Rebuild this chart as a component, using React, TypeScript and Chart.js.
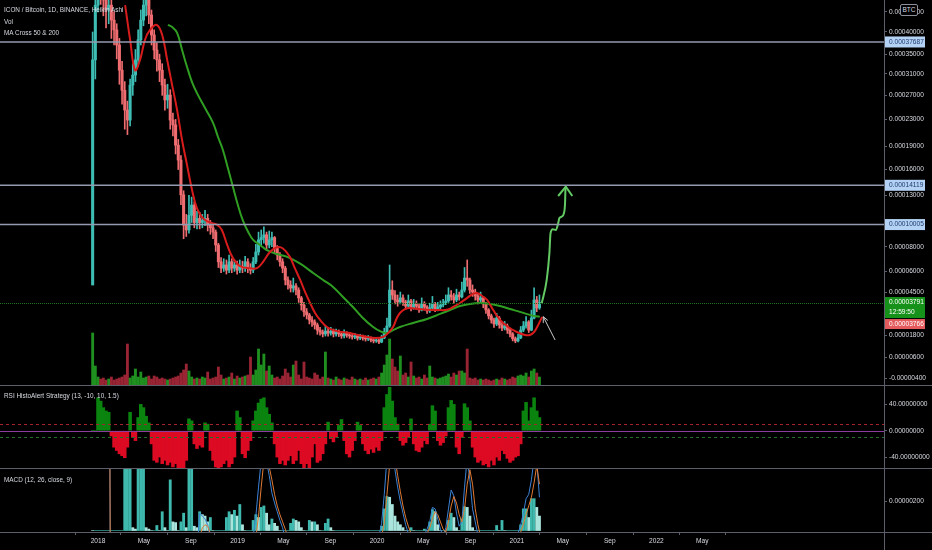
import { useEffect, useRef } from 'react';
import { Chart, registerables } from 'chart.js';

Chart.register(...registerables);

// days counted from 2018-01-01, one Heikin Ashi bar per week
const FIRST_DAY = -14;
const BAR_STEP = 7;
const LISTING_OPEN = 5000;

// prices in satoshi
const closes = [
  33800, 46800, 56000, 52000, 48200, 45500, 46800, 42900, 40500, 37000,
  31700, 27900, 24500, 22900, 28850, 30750, 33800, 38200, 42900, 46800,
  48200, 44200, 39300, 35900, 33800, 31700, 28850, 26200, 27050, 22900,
  22150, 19200, 17200, 13050, 9950, 9500, 10900, 11950, 10200, 10600,
  10200, 10400, 10600, 9950, 9700, 9300, 8150, 6750, 6250, 6500,
  6100, 6750, 6250, 6500, 6100, 6400, 6250, 6750, 6250, 6100,
  6750, 7550, 8600, 8800, 9050, 8150, 8600, 8800, 7850, 7300,
  6750, 6250, 5360, 5000, 4780, 4930, 4640, 4100, 3630, 3190,
  3000, 2690, 2570, 2390, 2090, 1980, 1870, 2030, 1920, 2030,
  1870, 1980, 1870, 1760, 1920, 1810, 1760, 1700, 1760, 1640,
  1700, 1640, 1590, 1640, 1530, 1480, 1530, 1420, 1640, 1980,
  2330, 4640, 4300, 3960, 3830, 4100, 3830, 3560, 3900, 3440,
  3700, 3560, 3310, 3700, 3500, 3250, 3440, 3700, 3380, 3500,
  3630, 3760, 3900, 4300, 4170, 3960, 4300, 4170, 4640, 5500,
  5360, 4640, 4500, 4230, 3960, 4100, 3700, 3310, 2940, 2690,
  2450, 2810, 2390, 2210, 2330, 2090, 1870, 1600, 1480, 1650,
  2090, 2330, 2570, 2090, 2810, 3960, 3440, 3791,
];

const highs = [
  40000, 52000, 62000, 60000, 56000, 52000, 50000, 48500, 45000, 42000,
  38500, 33500, 29500, 26000, 30000, 33000, 36000, 40500, 45500, 50000,
  52000, 49500, 45500, 40500, 37500, 35000, 33000, 30000, 29000, 28000,
  24000, 23000, 20000, 17800, 13500, 11000, 13000, 12800, 12300, 11300,
  11200, 11000, 11400, 11000, 10400, 10100, 9500, 8300, 7100, 7000,
  6900, 7300, 7000, 6900, 6800, 6900, 6800, 7200, 7000, 6600,
  7100, 8200, 9300, 9500, 9800, 9300, 9400, 9300, 8900, 8100,
  7500, 7000, 6400, 5600, 5300, 5500, 5100, 4800, 4200, 3800,
  3400, 3100, 2900, 2700, 2500, 2250, 2100, 2350, 2200, 2250,
  2150, 2150, 2100, 1980, 2100, 2000, 1950, 1880, 1900, 1850,
  1850, 1800, 1760, 1780, 1700, 1650, 1680, 1600, 1800, 2200,
  2800, 6500, 5300, 4600, 4300, 4500, 4300, 3950, 4300, 4000,
  4000, 3900, 3700, 4100, 3850, 3600, 3750, 4200, 3800, 3800,
  3900, 4000, 4300, 4800, 4600, 4400, 4700, 4500, 5200, 6300,
  6900, 5500, 5000, 4700, 4400, 4500, 4200, 3800, 3400, 3050,
  2800, 3100, 2900, 2550, 2600, 2450, 2200, 1950, 1700, 1850,
  2300, 2600, 2900, 2650, 3300, 4800, 4200, 4300,
];

const lows = [
  5000, 30000, 45000, 47000, 44000, 41000, 42000, 38500, 37000, 34000,
  29000, 25500, 21500, 20700, 22000, 27000, 29500, 32500, 37000, 41500,
  44000, 42000, 37000, 34000, 31500, 29500, 27000, 24500, 24800, 21500,
  20500, 18000, 16000, 12000, 8700, 8900, 9200, 10200, 9700, 9600,
  9600, 9700, 9900, 9400, 9100, 8700, 7600, 6300, 5900, 6000,
  5800, 5900, 5900, 6000, 5800, 5900, 5900, 6000, 5900, 5800,
  5900, 6600, 7300, 8100, 8300, 7700, 7900, 8000, 7400, 6900,
  6400, 5900, 5000, 4700, 4500, 4500, 4300, 3800, 3300, 2900,
  2750, 2450, 2300, 2150, 1850, 1800, 1700, 1750, 1750, 1800,
  1700, 1750, 1720, 1620, 1650, 1680, 1620, 1580, 1600, 1520,
  1550, 1520, 1470, 1500, 1420, 1370, 1400, 1330, 1380, 1600,
  1900, 2250, 4000, 3700, 3550, 3700, 3600, 3350, 3450, 3250,
  3350, 3350, 3150, 3250, 3300, 3100, 3150, 3350, 3200, 3250,
  3380, 3500, 3650, 3800, 3950, 3750, 3850, 3950, 4100, 4500,
  4900, 4400, 4200, 3950, 3700, 3800, 3450, 3100, 2750, 2500,
  2250, 2350, 2200, 2050, 2100, 1900, 1700, 1480, 1380, 1420,
  1600, 2000, 2200, 1950, 2050, 2750, 3200, 3350,
];

const volumes = [
  52, 19, 8, 6, 7, 5, 6, 8, 5, 6,
  7, 8, 10, 41, 7, 9, 16, 8, 13, 7,
  8, 9, 6, 9, 8, 6, 7, 6, 5, 6,
  7, 8, 9, 12, 15, 21, 14, 8, 6, 7,
  6, 8, 7, 13, 6, 7, 8, 18, 10, 6,
  7, 8, 12, 6, 9, 7, 8, 9, 10, 28,
  10, 15, 36, 20, 31, 14, 19, 10, 7, 8,
  6, 9, 16, 12, 8, 20, 24, 10, 6, 23,
  8, 7, 6, 12, 10, 6, 8, 33, 7, 6,
  5, 8, 6, 5, 7, 6, 5, 8, 6, 5,
  6, 5, 7, 5, 6, 7, 6, 8, 12, 20,
  30, 46, 26, 18, 14, 29, 10, 12, 8, 23,
  9, 7, 8, 6, 10, 7, 19, 8, 7, 6,
  7, 8, 9, 11, 8, 12, 10, 14, 14, 12,
  36, 7, 6, 7, 5, 6, 5, 6, 5, 4,
  5, 6, 5, 7, 6, 5, 6, 8, 7, 9,
  10, 9, 12, 8, 14, 16, 12, 8,
];

const rsiHisto = [
  0, 0, 50, 45, 35, 30, 28, -8, -25, -30,
  -35, -38, -41, -25, 28, -10, -15, 20, 40, 35,
  22, 12, -20, -45, -48, -40, -50, -45, -52, -48,
  -55, -50, -60, -60, -58, -45, 18, 15, -20, -27,
  -22, -25, 12, 10, -30, -45, -55, -60, -55, -50,
  -45, -55, -50, -40, 30, 20, -35, -41, -30, -15,
  15, 30, 42, 48, 50, 35, 25, 12, -20, -40,
  -50, -45, -52, -45, -38, -50, -45, -30, -50, -57,
  -50, -57, -40, -20, -48, -45, -35, -20, 13, -12,
  -17, -10, 8, 17, -15, -35, -40, -30, -15, 13,
  8, -20, -30, -35, -28, -33, -25, -30, -15, 35,
  55, 66, 45, 20, 10, -15, -22, -18, -10, 18,
  -20, -30, -32, -25, -15, -20, 10, 38, 30, -15,
  -22, -18, -8, 35, 46, 40, -25, -35, -10, 41,
  35, 15, -25, -40, -48, -45, -52, -50, -55, -45,
  -52, -40, -45, -30, -35, -42, -48, -45, -40, -38,
  -20, 30, 43, 15, 35, 50, 30, 20,
];

// MACD values in satoshi
const macdHisto = [
  0, 0, 0, 0, 0, 0, 0, 0, 0, 0,
  0, 0, 450, 450, 450, 20, 10, 450, 450, 450,
  20, 10, 0, 0, 35, 0, 130, 20, 0, 350,
  60, 55, 0, 60, 120, 20, 450, 450, 30, 20,
  130, 110, 100, 60, 90, 0, 0, 0, 0, 0,
  90, 130, 110, 140, 100, 180, 40, 0, 0, 0,
  70, 110, 90, 160, 170, 120, 40, 80, 50, 30,
  0, 0, 0, 0, 50, 80, 70, 60, 20, 0,
  0, 70, 60, 60, 40, 0, 0, 50, 80, 20,
  0, 0, 0, 0, 0, 0, 0, 0, 0, 0,
  0, 0, 0, 0, 0, 0, 0, 0, 30, 150,
  235, 230, 180, 100, 60, 40, 20, 0, 0, 20,
  0, 0, 0, 0, 10, 0, 60, 145, 130, 40,
  0, 0, 0, 70, 120, 90, 20, 0, 80, 165,
  160, 100, 20, 0, 0, 0, 0, 0, 0, 0,
  0, 35, 0, 70, 0, 0, 0, 0, 0, 0,
  40, 150, 150, 90, 220, 220, 160, 100,
];

const macdLine = [
  null, null, 3000, 3000, 3000, 3000, 3000, -2500, -2000, -1800,
  -1600, -1400, -1200, -1000, -900, -800, -700, -600, -500, -450,
  -400, -400, -450, -500, -550, -600, -600, -600, -600, -600,
  -550, -500, -500, -500, -500, -450, -400, -300, -250, -150,
  120, 100, 80, 40, -50, -150, -200, -250, -250, -250,
  -230, -200, -180, -160, -140, -120, -100, -90, -80, -60,
  -40, 100, 300, 480, 550, 480, 380, 260, 190, 130,
  70, 20, -60, -100, -120, -140, -150, -160, -170, -170,
  -160, -150, -140, -130, -120, -110, -100, -90, -80, -80,
  -75, -70, -72, -68, -65, -66, -62, -60, -58, -55,
  -52, -50, -50, -48, -46, -45, -44, -42, 50, 250,
  500, 700, 600, 420, 300, 200, 120, 40, -20, -40,
  -60, -70, -60, -50, -30, 10, 60, 160, 150, 80,
  10, -40, 20, 150, 280, 240, 120, 30, 60, 300,
  500, 350, 150, 60, -30, -80, -120, -150, -160, -170,
  -170, -160, -150, -140, -130, -120, -110, -90, -60, -20,
  40, 120, 220, 250, 350, 500, 480, 230,
];

const macdSignal = [
  null, null, 2500, 2500, 2500, 2500, 2500, -2000, -1800, -1700,
  -1600, -1500, -1400, -1300, -1200, -1100, -1000, -900, -800, -700,
  -650, -600, -580, -560, -560, -570, -580, -590, -590, -600,
  -590, -570, -560, -540, -530, -510, -480, -440, -400, -300,
  -50, 20, 40, 30, -20, -80, -140, -190, -220, -240,
  -240, -230, -210, -190, -170, -150, -130, -115, -100, -85,
  -70, -50, 100, 300, 480, 500, 440, 350, 250, 170,
  110, 60, 10, -50, -90, -110, -125, -140, -150, -160,
  -160, -158, -150, -142, -135, -125, -115, -105, -95, -88,
  -82, -78, -75, -72, -70, -68, -65, -63, -60, -58,
  -56, -54, -52, -50, -49, -47, -46, -44, -40, 50,
  250, 450, 550, 500, 380, 270, 170, 90, 30, -20,
  -45, -55, -60, -58, -45, -20, 20, 80, 130, 110,
  60, 10, -10, 60, 170, 235, 190, 110, 60, 150,
  320, 420, 320, 150, 40, -40, -80, -110, -130, -145,
  -155, -158, -155, -150, -142, -135, -125, -115, -95, -60,
  -10, 40, 110, 170, 230, 330, 450, 320,
];

const ma50Days = [
  71, 84, 97, 110, 123, 136, 154, 168, 181, 194, 207, 220, 233, 246, 259, 275, 293, 311, 324, 338,
  353, 372, 398, 416, 432, 450, 468, 484, 502, 515, 529, 542, 555, 568, 581, 599, 615, 638, 659, 680,
  704, 725, 746, 759, 772, 782, 790, 803, 816, 837, 861, 887, 913, 929, 947, 966, 981, 992, 1005, 1018,
  1034, 1052, 1073, 1096, 1117, 1130, 1141, 1149, 1162,
];
const ma50Values = [
  46800, 38200, 31700, 33800, 38200, 40500, 41700, 39300, 33800, 28850, 24500, 19900, 16550, 13600, 11600, 10600, 10200, 10000, 9500, 8150,
  7050, 6400, 6250, 6250, 6750, 7550, 7950, 7850, 7150, 6250, 5360, 4500, 3760, 3120, 2690, 2270, 2090, 1980, 1920, 1810,
  1700, 1640, 1700, 1920, 2270, 2810, 3120, 3370, 3440, 3370, 3330, 3310, 3320, 3500, 3760, 4100, 4370, 4430, 4230, 3960,
  3310, 2690, 2270, 1980, 1810, 1810, 1980, 2270, 2880,
];

const ma200Days = [
  183, 194, 207, 220, 233, 246, 259, 280, 301, 314, 327, 340, 353, 366, 379, 393, 406, 424, 442, 468,
  495, 529, 563, 589, 615, 641, 667, 693, 720, 738, 756, 772, 790, 824, 861, 895, 921, 947, 973, 1000,
  1026, 1052, 1078, 1104, 1130, 1156,
];
const ma200Values = [
  41700, 41200, 39800, 35900, 32350, 29400, 27400, 24850, 22450, 20350, 18500, 16150, 13950, 11950, 10400, 9300, 8600, 8150, 7700, 7380,
  7150, 6600, 5880, 5360, 4860, 4160, 3500, 2810, 2270, 2030, 1920, 2090, 2270, 2510, 2750, 3060, 3310, 3560, 3700, 3760,
  3700, 3560, 3370, 3190, 3000, 2880,
];

// drawn target arrow and hint arrow
const targetDays = [1161, 1174, 1181, 1184, 1190, 1198, 1204, 1207, 1213, 1219, 1222, 1223, 1224];
const targetPrices = [3740, 5360, 7440, 9190, 9560, 9490, 10120, 10610, 10770, 11110, 12140, 13580, 13960];
const targetHeadDays = [1204, 1224, 1241];
const targetHeadPrices = [12920, 13960, 12920];
const hintDays = [1196, 1165];
const hintPrices = [1530, 2890];
const hintHeadDays = [1166, 1165, 1177];
const hintHeadPrices = [2520, 2890, 2660];

const levels = [37687, 14119, 10005];
const lastPrice = 3791;
const lastClock = '12:59:50';
const prevPrice = 3766;

const priceTicks = [45000, 40000, 35000, 31000, 27000, 23000, 19000, 16000, 13000, 8000, 6000, 4500, 1800, 600, -400];
const rsiTicks = [40, 0, -40];
const macdTicks = [200];
const rsiUpper = 10;
const rsiLower = -10;

const timeTickDays = [0, 120, 243, 365, 485, 608, 730, 851, 974, 1096, 1216, 1339, 1461, 1581];
const timeTickLabels = ['2018', 'May', 'Sep', '2019', 'May', 'Sep', '2020', 'May', 'Sep', '2021', 'May', 'Sep', '2022', 'May'];

const FONT = "'Liberation Sans Narrow', 'Liberation Sans', Arial, sans-serif";
const TEXT = '#d8dbe2';
const LINE = '#5c5f69';
const X_MIN = -256.4;
const X_MAX = 2056.5;

const tp = (sats: number) => Math.log(sats / 1000 + 10.1);
const btc = (sats: number) => (sats / 1e8).toFixed(8);
const dayOf = (i: number) => FIRST_DAY + i * BAR_STEP;
const pts = (days: number[], vals: number[]) => days.map((d, i) => ({ x: d, y: tp(vals[i]) }));
const isUp = (i: number) => closes[i] >= (i ? closes[i - 1] : LISTING_OPEN);

Chart.defaults.font.family = FONT;
Chart.defaults.font.size = 6.6;

const noPadding = (s: any) => {
  s.paddingTop = 0;
  s.paddingBottom = 0;
  s.paddingLeft = 0;
  s.paddingRight = 0;
};

function xAxis(show: boolean): any {
  return {
    type: 'linear',
    min: X_MIN,
    max: X_MAX,
    offset: false,
    display: show,
    afterBuildTicks: (s: any) => {
      s.ticks = timeTickDays.map((v) => ({ value: v }));
    },
    afterFit: (s: any) => {
      noPadding(s);
      if (show) s.height = 18;
    },
    grid: { drawOnChartArea: false, drawTicks: true, tickLength: 3, color: LINE },
    border: { display: false },
    ticks: {
      color: TEXT,
      padding: 2,
      autoSkip: false,
      maxRotation: 0,
      callback: (_v: any, i: number) => timeTickLabels[i],
    },
  };
}

function yAxis(min: number, max: number, ticks: number[], toValue: (v: number) => number, label: (v: number) => string): any {
  return {
    position: 'right',
    min,
    max,
    afterBuildTicks: (s: any) => {
      s.ticks = ticks.map((v) => ({ value: toValue(v) }));
    },
    afterFit: (s: any) => {
      noPadding(s);
      s.width = 48;
    },
    grid: { drawOnChartArea: false, drawTicks: true, tickLength: 3, color: LINE },
    border: { display: false },
    ticks: { color: TEXT, padding: 2, autoSkip: false, callback: (_v: any, i: number) => label(ticks[i]) },
  };
}

const baseOptions: any = {
  responsive: false,
  animation: false,
  events: [],
  layout: { padding: 0, autoPadding: false },
  plugins: { legend: { display: false }, tooltip: { enabled: false } },
};

const priceMarks = {
  id: 'priceMarks',
  afterDatasetsDraw(chart: any) {
    const { ctx, chartArea: a } = chart;
    const y = chart.scales.y;
    ctx.save();
    ctx.strokeStyle = '#939bb0';
    ctx.lineWidth = 1.5;
    levels.forEach((v) => {
      const py = y.getPixelForValue(tp(v));
      ctx.beginPath();
      ctx.moveTo(a.left, py);
      ctx.lineTo(a.right, py);
      ctx.stroke();
    });
    ctx.strokeStyle = '#1c6e20';
    ctx.lineWidth = 1;
    ctx.setLineDash([1, 1]);
    const lp = Math.round(y.getPixelForValue(tp(lastPrice))) + 0.5;
    ctx.beginPath();
    ctx.moveTo(a.left, lp);
    ctx.lineTo(a.right, lp);
    ctx.stroke();
    ctx.restore();
  },
  afterDraw(chart: any) {
    const { ctx, chartArea: a } = chart;
    const y = chart.scales.y;
    const left = a.right + 1;
    ctx.save();
    ctx.font = `6.6px ${FONT}`;
    ctx.textBaseline = 'middle';
    const box = (top: number, h: number, fill: string, color: string, lines: string[]) => {
      ctx.fillStyle = fill;
      ctx.fillRect(left, top, 40, h);
      ctx.fillStyle = color;
      lines.forEach((t, k) => ctx.fillText(t, left + 4, top + 5.5 + k * 10));
    };
    levels.forEach((v) => {
      const py = y.getPixelForValue(tp(v));
      box(py - 5.5, 11, '#b4d2f3', '#1d3a6e', [btc(v)]);
    });
    const lp = y.getPixelForValue(tp(lastPrice));
    box(lp - 5.5, 21, '#16921a', '#ffffff', [btc(lastPrice), lastClock]);
    box(lp - 5.5 + 22, 10, '#e35b5d', '#ffffff', [btc(prevPrice)]);
    ctx.restore();
  },
};

const rsiMarks = {
  id: 'rsiMarks',
  afterDatasetsDraw(chart: any) {
    const { ctx, chartArea: a } = chart;
    const y = chart.scales.y;
    const hline = (v: number, color: string, dash: number[]) => {
      const py = Math.round(y.getPixelForValue(v)) + 0.5;
      ctx.strokeStyle = color;
      ctx.setLineDash(dash);
      ctx.beginPath();
      ctx.moveTo(a.left, py);
      ctx.lineTo(a.right, py);
      ctx.stroke();
    };
    ctx.save();
    ctx.lineWidth = 1;
    hline(rsiUpper, '#a5232d', [3, 3]);
    hline(rsiLower, '#22702a', [3, 3]);
    hline(0, '#8b3c9c', []);
    ctx.restore();
  },
};

export default function App() {
  const mainRef = useRef<HTMLCanvasElement | null>(null);
  const rsiRef = useRef<HTMLCanvasElement | null>(null);
  const macdRef = useRef<HTMLCanvasElement | null>(null);

  useEffect(() => {
    if (!mainRef.current || !rsiRef.current || !macdRef.current) return;

    const bodies = closes.map((c, i) => ({ x: dayOf(i), y: [tp(i ? closes[i - 1] : LISTING_OPEN), tp(c)] }));
    const wicks = closes.map((_c, i) => ({ x: dayOf(i), y: [tp(lows[i]), tp(highs[i])] }));
    const candleColor = (ctx: any) => (isUp(ctx.dataIndex ?? 0) ? '#3dbdb4' : '#ef6d70');

    const main = new Chart(mainRef.current, {
      type: 'bar',
      data: {
        datasets: [
          {
            type: 'line',
            data: pts(hintHeadDays, hintHeadPrices),
            borderColor: '#c9c9c9',
            borderWidth: 1,
            pointRadius: 0,
            order: 1,
          },
          {
            type: 'line',
            data: pts(hintDays, hintPrices),
            borderColor: '#c9c9c9',
            borderWidth: 1,
            pointRadius: 0,
            order: 1,
          },
          {
            type: 'line',
            data: pts(targetHeadDays, targetHeadPrices),
            borderColor: '#63c963',
            borderWidth: 2,
            pointRadius: 0,
            order: 1,
          },
          {
            type: 'line',
            data: pts(targetDays, targetPrices),
            borderColor: '#63c963',
            borderWidth: 2,
            pointRadius: 0,
            cubicInterpolationMode: 'monotone',
            order: 1,
          },
          {
            type: 'line',
            data: pts(ma50Days, ma50Values),
            borderColor: '#d81c1c',
            borderWidth: 2,
            pointRadius: 0,
            tension: 0.4,
            order: 2,
          },
          {
            type: 'line',
            data: pts(ma200Days, ma200Values),
            borderColor: '#2f9e22',
            borderWidth: 2,
            pointRadius: 0,
            tension: 0.4,
            order: 2,
          },
          {
            data: bodies,
            backgroundColor: candleColor,
            barThickness: 2.4,
            minBarLength: 1,
            grouped: false,
            order: 5,
          },
          {
            data: wicks,
            backgroundColor: candleColor,
            barThickness: 1,
            grouped: false,
            order: 6,
          },
          {
            yAxisID: 'yv',
            data: volumes.map((v, i) => ({ x: dayOf(i), y: v })),
            backgroundColor: (ctx: any) => (isUp(ctx.dataIndex ?? 0) ? 'rgba(34,160,34,0.9)' : 'rgba(170,40,56,0.9)'),
            barThickness: 2.2,
            grouped: false,
            order: 10,
          },
        ] as any,
      },
      options: {
        ...baseOptions,
        scales: {
          x: xAxis(false),
          y: yAxis(2.24024, 4.06575, priceTicks, tp, btc),
          yv: { display: false, min: 0, max: 385 },
        },
      },
      plugins: [priceMarks],
    });

    const rsi = new Chart(rsiRef.current, {
      type: 'bar',
      data: {
        datasets: [
          {
            data: rsiHisto.map((v, i) => ({ x: dayOf(i), y: v })),
            backgroundColor: (ctx: any) => ((ctx.raw?.y ?? 0) >= 0 ? '#0a840f' : '#dc0a22'),
            barThickness: 2.9,
            grouped: false,
          },
        ],
      },
      options: {
        ...baseOptions,
        scales: {
          x: xAxis(false),
          y: yAxis(-56.6, 67.9, rsiTicks, (v) => v, (v) => v.toFixed(8)),
        },
      },
      plugins: [rsiMarks],
    });

    const macd = new Chart(macdRef.current, {
      type: 'bar',
      data: {
        datasets: [
          {
            type: 'line',
            data: macdSignal.map((v, i) => ({ x: dayOf(i), y: v })),
            borderColor: '#e27a33',
            borderWidth: 1,
            pointRadius: 0,
            order: 1,
          },
          {
            type: 'line',
            data: macdLine.map((v, i) => ({ x: dayOf(i), y: v })),
            borderColor: '#3b82d6',
            borderWidth: 1,
            pointRadius: 0,
            order: 1,
          },
          {
            data: macdHisto.map((v, i) => ({ x: dayOf(i), y: v })),
            backgroundColor: (ctx: any) => {
              const i = ctx.dataIndex ?? 0;
              return i > 0 && macdHisto[i] >= macdHisto[i - 1] ? '#3fb8ad' : '#a9e4dd';
            },
            barThickness: 2.2,
            grouped: false,
            order: 5,
          },
        ] as any,
      },
      options: {
        ...baseOptions,
        scales: {
          x: xAxis(true),
          y: yAxis(-10, 425, macdTicks, (v) => v, btc),
        },
      },
    });

    return () => {
      main.destroy();
      rsi.destroy();
      macd.destroy();
    };
  }, []);

  const legend: any = {
    position: 'absolute',
    left: 4,
    color: TEXT,
    fontSize: 7.8,
    lineHeight: '11px',
    whiteSpace: 'nowrap',
    transform: 'scaleX(0.82)',
    transformOrigin: 'left center',
  };
  const hLine = (top: number): any => ({ position: 'absolute', left: 0, top, width: 932, height: 1, background: LINE });

  return (
    <div style={{ position: 'absolute', left: 0, top: 0, width: 932, height: 550, background: '#000', overflow: 'hidden', fontFamily: FONT }}>
      <canvas ref={mainRef} width={932} height={385} style={{ position: 'absolute', left: 0, top: 0 }} />
      <canvas ref={rsiRef} width={932} height={82} style={{ position: 'absolute', left: 0, top: 386 }} />
      <canvas ref={macdRef} width={932} height={81} style={{ position: 'absolute', left: 0, top: 469 }} />
      <div style={hLine(385)} />
      <div style={hLine(468)} />
      <div style={hLine(532)} />
      <div style={{ position: 'absolute', left: 884, top: 0, width: 1, height: 550, background: LINE }} />
      <div style={{ ...legend, top: 4 }}>ICON / Bitcoin, 1D, BINANCE, Heikin Ashi</div>
      <div style={{ ...legend, top: 16 }}>Vol</div>
      <div style={{ ...legend, top: 27 }}>MA Cross 50 &amp; 200</div>
      <div style={{ ...legend, top: 390 }}>RSI HistoAlert Strategy (13, -10, 10, 1.5)</div>
      <div style={{ ...legend, top: 474 }}>MACD (12, 26, close, 9)</div>
      <div
        style={{
          position: 'absolute',
          left: 900,
          top: 4,
          width: 16,
          height: 10,
          border: '1px solid #8d909a',
          borderRadius: 2,
          background: '#000',
          color: TEXT,
          fontSize: 6.5,
          lineHeight: '10px',
          textAlign: 'center',
        }}
      >
        BTC
      </div>
    </div>
  );
}
